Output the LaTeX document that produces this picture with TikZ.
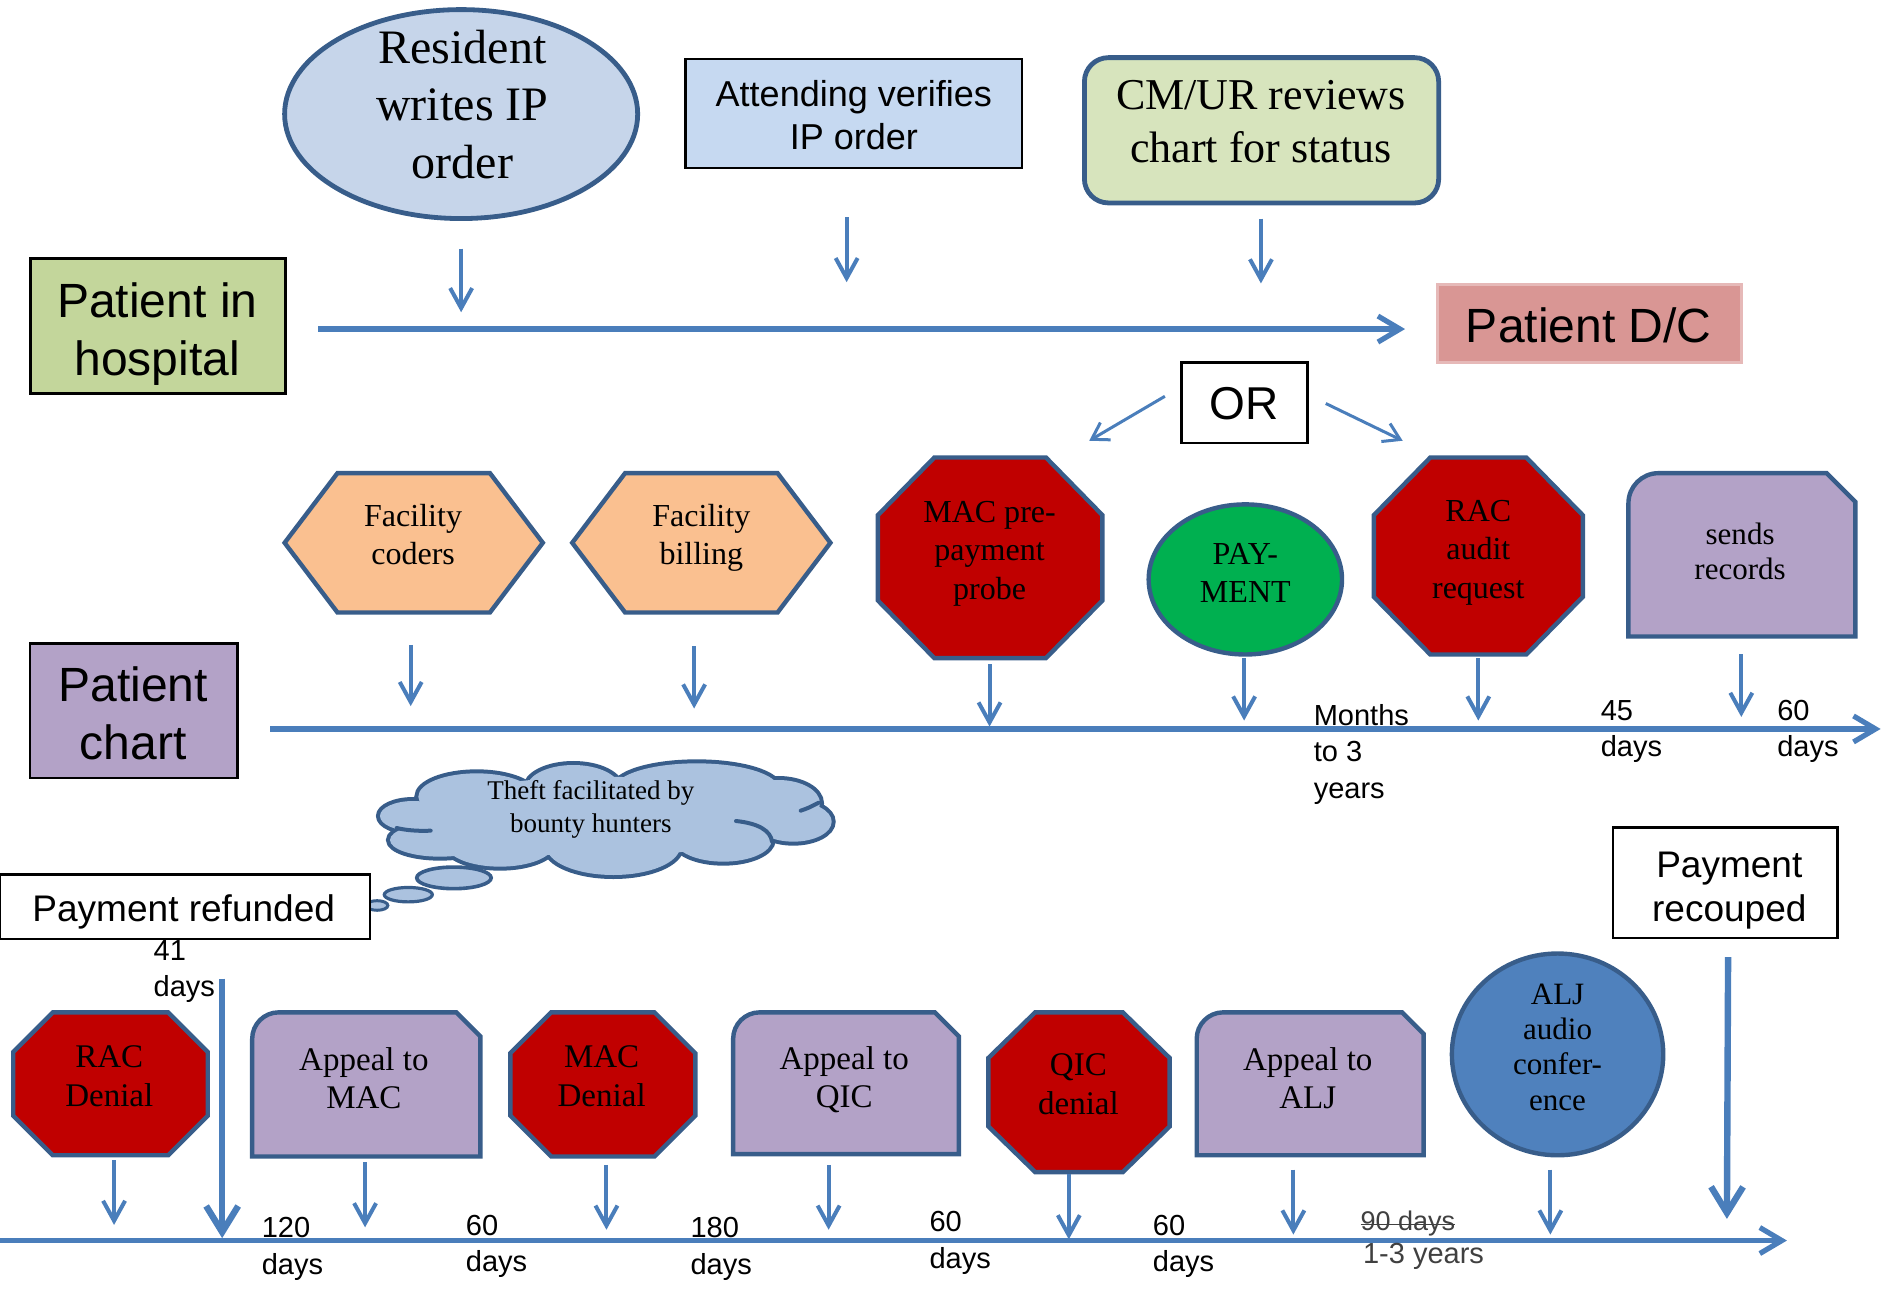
\documentclass[tikz,border=0pt]{standalone}
\usepackage{fontspec}
\setmainfont{Liberation Serif}
\setsansfont{Liberation Sans}
\usetikzlibrary{arrows.meta,calc,shapes.geometric}
\pgfdeclarelayer{bg}
\pgfsetlayers{bg,main}
\definecolor{arr}{HTML}{4A7EBB}
\definecolor{edge}{HTML}{385D8A}
\definecolor{resfill}{HTML}{C6D5EA}
\definecolor{attfill}{HTML}{C6D9F1}
\definecolor{cmfill}{HTML}{D7E4BD}
\definecolor{hospfill}{HTML}{C3D69B}
\definecolor{dcfill}{HTML}{D99694}
\definecolor{dcedge}{HTML}{E6B9B8}
\definecolor{hexfill}{HTML}{FAC090}
\definecolor{stopred}{HTML}{C00000}
\definecolor{paygreen}{HTML}{00B050}
\definecolor{lav}{HTML}{B3A2C7}
\definecolor{cloudfill}{HTML}{ABC2DF}
\definecolor{aljfill}{HTML}{4F81BD}
\definecolor{graytxt}{HTML}{404040}
\newcommand\fBig{\sffamily\fontsize{24}{28.8}\selectfont}
\newcommand\fMid{\sffamily\fontsize{18.5}{22}\selectfont}
\newcommand\fAtt{\sffamily\fontsize{18}{21.6}\selectfont}
\newcommand\fOR{\sffamily\fontsize{23}{27}\selectfont}
\newcommand\fRes{\rmfamily\fontsize{24}{28.8}\selectfont}
\newcommand\fCM{\rmfamily\fontsize{22}{26.4}\selectfont}
\newcommand\fShp{\rmfamily\fontsize{16}{19.2}\selectfont}
\newcommand\fApp{\rmfamily\fontsize{16.5}{19.2}\selectfont}
\newcommand\fSends{\rmfamily\fontsize{15.5}{17.4}\selectfont}
\newcommand\fALJ{\rmfamily\fontsize{15.5}{17.7}\selectfont}
\newcommand\fCloud{\rmfamily\fontsize{13.5}{16.2}\selectfont}
\newcommand\fLab{\sffamily\fontsize{14.5}{18}\selectfont}
\newcommand\octshape[4]{%
 \begin{pgfonlayer}{bg}
 \path[shp,fill=#4] ($(#1.north west)+(#2,0)$) -- ($(#1.north east)+(-#2,0)$) -- ($(#1.north east)+(0,#3)$) -- ($(#1.south east)+(0,-#3)$) -- ($(#1.south east)+(-#2,0)$) -- ($(#1.south west)+(#2,0)$) -- ($(#1.south west)+(0,-#3)$) -- ($(#1.north west)+(0,#3)$) -- cycle;
 \end{pgfonlayer}}
\newcommand\hexshape[3]{%
 \begin{pgfonlayer}{bg}
 \path[shp,fill=#3] ($(#1.north west)+(#2,0)$) -- ($(#1.north east)+(-#2,0)$) -- (#1.east) -- ($(#1.south east)+(-#2,0)$) -- ($(#1.south west)+(#2,0)$) -- (#1.west) -- cycle;
 \end{pgfonlayer}}
\newcommand\snipshape[4]{%
 \begin{pgfonlayer}{bg}
 \path[shp,fill=#4] (#1.south west) -- ($(#1.north west)+(0,#3)$) .. controls ($(#1.north west)+(0,0.45*#3)$) and ($(#1.north west)+(0.45*#3,0)$) .. ($(#1.north west)+(#3,0)$) -- ($(#1.north east)+(-#2,0)$) -- ($(#1.north east)+(0,#2)$) -- (#1.south east) -- cycle;
 \end{pgfonlayer}}
\begin{document}
\begin{tikzpicture}[x=0.6pt,y=-0.6pt,
 every node/.style={inner sep=0pt,outer sep=0pt,align=center},
 shp/.style={draw=edge,line width=2.2pt,line join=miter},
 sz/.style 2 args={minimum width=#1*0.6pt,minimum height=#2*0.6pt},
 tl/.style={draw=arr,line width=2.6pt,-{Straight Barb[length=11pt,width=13pt]}},
 dn/.style={draw=arr,line width=2pt,-{Straight Barb[length=10pt,width=11pt]}},
 bigdn/.style={draw=arr,line width=3.2pt,-{Straight Barb[length=13pt,width=16pt]}},
 thinarr/.style={draw=arr,line width=1.5pt,-{Straight Barb[length=8pt,width=10pt]}},
 lab/.style={font=\fLab,align=left,anchor=north west},
]
\useasboundingbox (0,0) rectangle (1568,1073);

% ---------- top row ----------
\node[ellipse,draw=edge,line width=2.4pt,fill=resfill,sz={294}{174}] (res) at (384,95) {};
\node[font=\fRes] (res-t) at (385,87) {Resident\\writes IP\\order};
\node[draw=black,line width=1.3pt,fill=attfill,sz={280}{91}] (att) at (711,94.5) {};
\node[font=\fAtt] (att-t) at (711,96) {Attending verifies\\IP order};
\node[draw=edge,line width=2.4pt,fill=cmfill,rounded corners=12pt,sz={295}{121}] (cm) at (1050.5,108.5) {};
\node[font=\fCM] (cm-t) at (1050,101) {CM/UR reviews\\chart for status};

\node[draw=black,line width=1.5pt,fill=hospfill,sz={213}{113}] (hosp) at (131.5,271.5) {};
\node[font=\fBig] (hosp-t) at (131,278) {Patient in\\hospital};
\node[draw=dcedge,line width=1.5pt,fill=dcfill,sz={253}{65}] (dc) at (1323.5,269.5) {};
\node[font=\fBig] (dc-t) at (1323,271) {Patient D/C};
\node[draw=black,line width=1.3pt,fill=white,sz={105}{67}] (or) at (1036.5,335.5) {};
\node[font=\fOR] (or-t) at (1036,336) {OR};

\coordinate (a1s) at (384,207); \coordinate (a1e) at (384,260);
\coordinate (a2s) at (705,181); \coordinate (a2e) at (705,235);
\coordinate (a3s) at (1050,182); \coordinate (a3e) at (1050,236);
\draw[dn] (a1s) -- (a1e);
\draw[dn] (a2s) -- (a2e);
\draw[dn] (a3s) -- (a3e);
\coordinate (t1s) at (265,274); \coordinate (t1e) at (1170,274);
\draw[tl] (t1s) -- (t1e);
\coordinate (orl1) at (970,330); \coordinate (orl2) at (907,367);
\coordinate (orr1) at (1104,336); \coordinate (orr2) at (1168,367);
\draw[thinarr] (orl1) -- (orl2);
\draw[thinarr] (orr1) -- (orr2);

% ---------- middle row ----------
\node[sz={215}{116}] (cod) at (344.5,452) {};
\hexshape{cod}{44}{hexfill}
\node[font=\fShp] (cod-t) at (344,445) {Facility\\coders};
\node[sz={215}{116}] (bil) at (584,452) {};
\hexshape{bil}{44}{hexfill}
\node[font=\fShp] (bil-t) at (584,448) {Facility\\billing};
\node[sz={187}{167}] (mac) at (824.5,464.5) {};
\octshape{mac}{47}{48}{stopred}
\node[font=\fShp] (mac-t) at (824,461) {MAC pre-\\payment\\probe};
\node[ellipse,draw=edge,line width=2.2pt,fill=paygreen,sz={161}{125}] (pay) at (1037,482.5) {};
\node[font=\fShp] (pay-t) at (1037,477) {PAY-\\MENT};
\node[sz={174}{164}] (rac) at (1231,463) {};
\octshape{rac}{47}{48}{stopred}
\node[font=\fShp] (rac-t) at (1231,460) {RAC\\audit\\request};
\node[sz={189}{136}] (snd) at (1450.5,462) {};
\snipshape{snd}{24}{25}{lav}
\node[font=\fSends] (snd-t) at (1449,459) {sends\\records};

\node[draw=black,line width=1.3pt,fill=lav,sz={173}{112}] (chart) at (111.5,592) {};
\node[font=\fBig] (chart-t) at (111,594) {Patient\\chart};

\coordinate (b1s) at (342,537); \coordinate (b1e) at (342,588);
\coordinate (b2s) at (578,538); \coordinate (b2e) at (578,590);
\coordinate (b3s) at (824,553); \coordinate (b3e) at (824,605);
\coordinate (b4s) at (1036,548); \coordinate (b4e) at (1036,600);
\coordinate (b5s) at (1231,548); \coordinate (b5e) at (1231,600);
\coordinate (b6s) at (1450,545); \coordinate (b6e) at (1450,597);
\foreach \i in {1,...,6} {\draw[dn] (b\i s) -- (b\i e);}
\coordinate (t2s) at (225,607); \coordinate (t2e) at (1566,607);
\draw[tl] (t2s) -- (t2e);

\node[lab] (l-mon) at (1094,587) {Months\\to 3\\years};
\node[lab] (l-45) at (1333,583) {45\\days};
\node[lab] (l-60a) at (1480,583) {60\\days};

% ---------- cloud (union of puffs) ----------
\begin{scope}[shift={(299.78,616.2)},scale=0.27757]
 \def\puffs{160/228/100/45, 240/300/150/50, 350/170/175/70, 640/145/140/70,
  1010/145/245/75, 1255/190/125/70, 1300/245/115/60, 1090/300/145/65,
  760/320/200/85, 420/315/160/65}
 \foreach \cx/\cy/\rx/\ry in \puffs
  {\filldraw[draw=edge,fill=cloudfill,line width=4pt] (\cx,\cy) ellipse [x radius=\rx, y radius=\ry];}
 \foreach \cx/\cy/\rx/\ry in \puffs
  {\fill[cloudfill] (\cx,\cy) ellipse [x radius=\rx, y radius=\ry];}
 \fill[cloudfill] (720,230) ellipse [x radius=520, y radius=120];
 \coordinate (cl1a) at (212,272); \coordinate (cl1b) at (110,264);
 \coordinate (cl2a) at (1128,243); \coordinate (cl2b) at (1236,305);
 \coordinate (cl3a) at (1322,212); \coordinate (cl3b) at (1376,188);
 \draw[edge,line width=2pt,line cap=round] (cl1a) .. controls (170,274) and (135,270) .. (cl1b);
 \draw[edge,line width=2pt,line cap=round] (cl2a) .. controls (1195,250) and (1232,272) .. (cl2b);
 \draw[edge,line width=2pt,line cap=round] (cl3a) .. controls (1345,204) .. (cl3b);
 \coordinate (cloud) at (720,230);
\end{scope}
\node[font=\fCloud] (cloud-t) at (492,674) {Theft facilitated by\\bounty hunters};
\node[ellipse,draw=edge,line width=1.8pt,fill=cloudfill,sz={62}{18}] (bub1) at (378,731) {};
\node[ellipse,draw=edge,line width=1.6pt,fill=cloudfill,sz={40}{12}] (bub2) at (340,745) {};
\node[ellipse,draw=edge,line width=1.5pt,fill=cloudfill,sz={18}{8}] (bub3) at (314,754) {};

\node[draw=black,line width=1.3pt,fill=white,sz={308}{54}] (ref) at (154,755) {};
\node[font=\fMid] (ref-t) at (153,759) {Payment refunded};
\node[draw=black,line width=1.3pt,fill=white,sz={187}{92}] (rec) at (1436.5,735) {};
\node[font=\fMid] (rec-t) at (1440,742) {Payment\\recouped};
\node[lab] (l-41) at (128,783) {41\\days};

% ---------- bottom row ----------
\node[sz={162}{119}] (racd) at (92,902.5) {};
\octshape{racd}{33}{33}{stopred}
\node[font=\fApp] (racd-t) at (91,896) {RAC\\Denial};
\node[sz={190}{120}] (apm) at (305,903) {};
\snipshape{apm}{20}{22}{lav}
\node[font=\fApp] (apm-t) at (303,898) {Appeal to\\MAC};
\node[sz={154}{120}] (macd) at (502,903) {};
\octshape{macd}{34}{34}{stopred}
\node[font=\fApp] (macd-t) at (501,896) {MAC\\Denial};
\node[sz={188}{118}] (apq) at (704.5,902) {};
\snipshape{apq}{20}{22}{lav}
\node[font=\fApp] (apq-t) at (703,899) {Appeal to\\QIC};
\node[sz={151}{133}] (qicd) at (898.5,909.5) {};
\octshape{qicd}{39}{38}{stopred}
\node[font=\fApp] (qicd-t) at (898,903) {QIC\\denial};
\node[sz={189}{119}] (apa) at (1091,902.5) {};
\snipshape{apa}{18}{22}{lav}
\node[font=\fApp] (apa-t) at (1089,898) {Appeal to\\ALJ};
\node[ellipse,draw=edge,line width=2.2pt,fill=aljfill,sz={176}{168}] (alj) at (1297,878) {};
\node[font=\fALJ] (alj-t) at (1297,872) {ALJ\\audio\\confer-\\ence};

\coordinate (c1s) at (95,966);   \coordinate (c1e) at (95,1020);
\coordinate (c2s) at (304,968);  \coordinate (c2e) at (304,1022);
\coordinate (c3s) at (505,970);  \coordinate (c3e) at (505,1024);
\coordinate (c4s) at (690,970);  \coordinate (c4e) at (690,1024);
\coordinate (c5s) at (890,978);  \coordinate (c5e) at (890,1032);
\coordinate (c6s) at (1077,974); \coordinate (c6e) at (1077,1028);
\coordinate (c7s) at (1291,974); \coordinate (c7e) at (1291,1028);
\foreach \i in {1,...,7} {\draw[dn] (c\i s) -- (c\i e);}
\coordinate (g1s) at (185,815); \coordinate (g1e) at (185,1031);
\coordinate (g2s) at (1439,797); \coordinate (g2e) at (1438,1015);
\draw[bigdn] (g1s) -- (g1e);
\draw[bigdn] (g2s) -- (g2e);
\coordinate (t3s) at (0,1033); \coordinate (t3e) at (1488,1033);
\draw[tl] (t3s) -- (t3e);

\node[lab] (l-120) at (218,1014) {120\\days};
\node[lab] (l-60b) at (388,1012) {60\\days};
\node[lab] (l-180) at (575,1014) {180\\days};
\node[lab] (l-60c) at (774,1009) {60\\days};
\node[lab] (l-60d) at (960,1012) {60\\days};
\node[lab,font=\sffamily\fontsize{13.5}{16}\selectfont,text=graytxt] (l-90) at (1133,1008) {90 days};
\draw[graytxt,line width=0.8pt] ($(l-90.west)+(0,1)$) -- ($(l-90.east)+(0,1)$);
\node[lab,text=graytxt] (l-13) at (1135,1035) {1-3 years};
\end{tikzpicture}
\end{document}
